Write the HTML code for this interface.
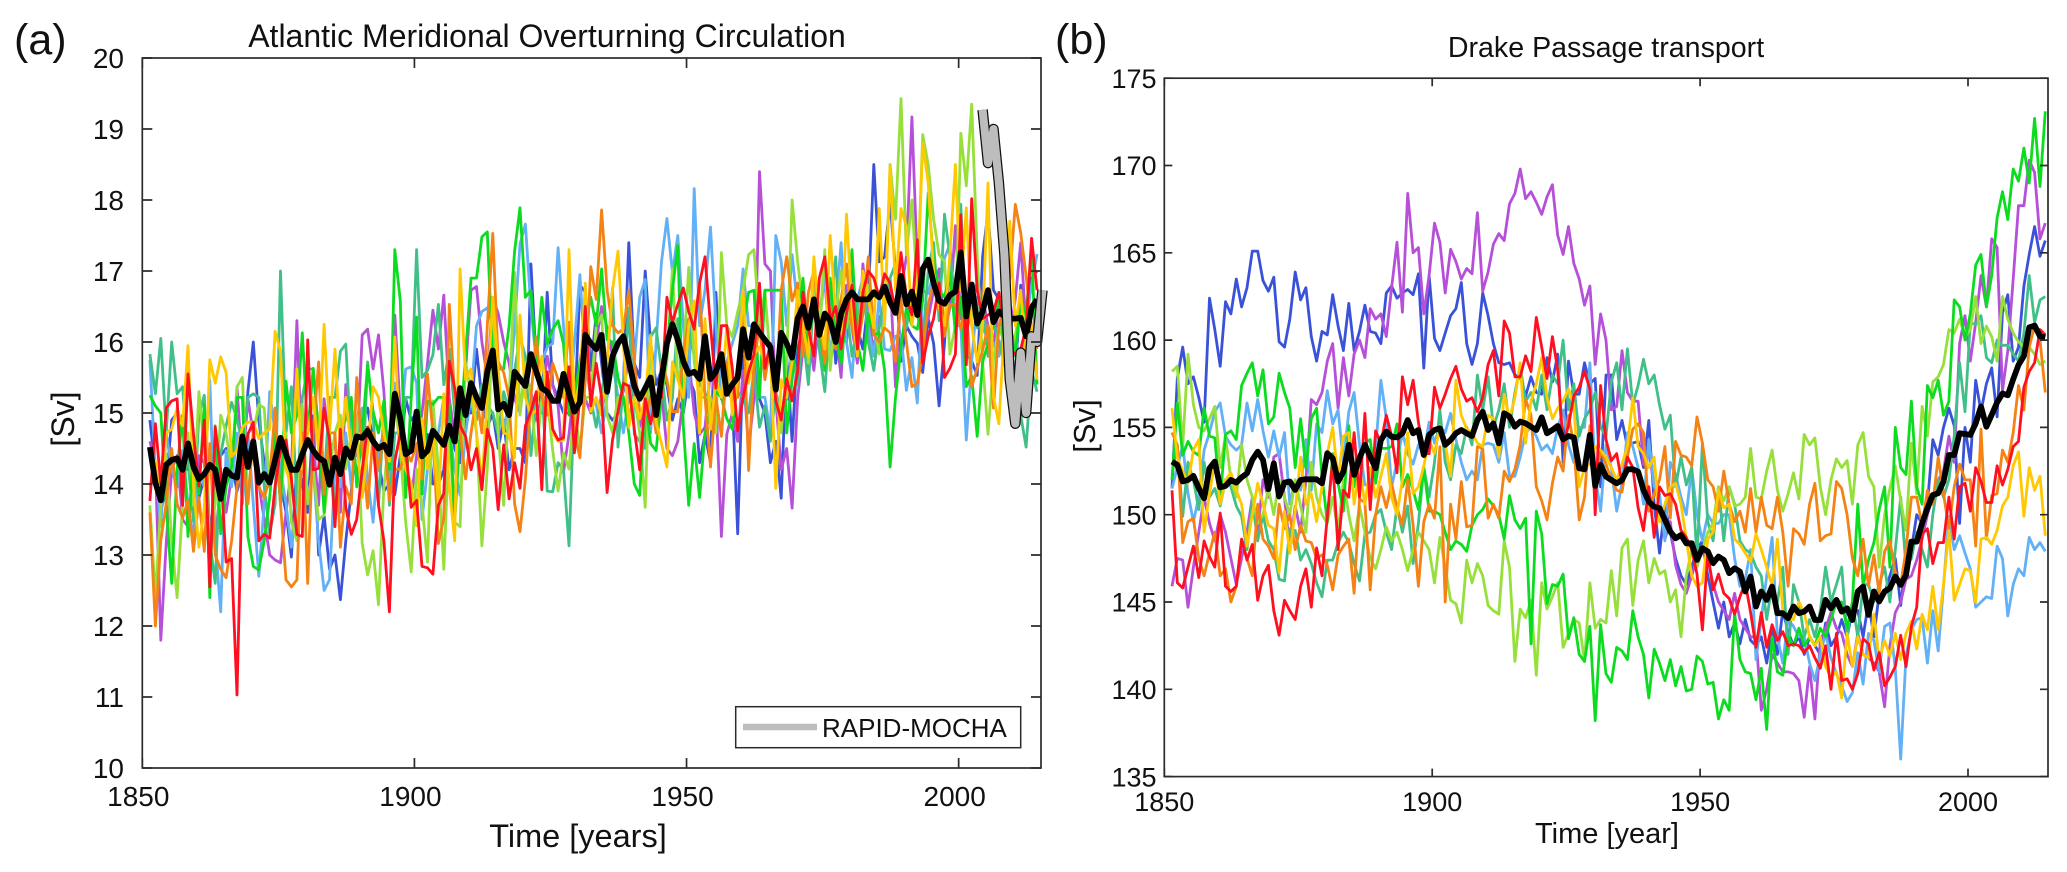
<!DOCTYPE html>
<html lang="en">
<head>
<meta charset="utf-8">
<title>AMOC and Drake Passage transport</title>
<style>
html,body{margin:0;padding:0;background:#fff;width:2067px;height:872px;overflow:hidden}
svg{display:block}
text{font-family:"Liberation Sans",Arial,sans-serif;fill:#111}
</style>
</head>
<body>
<svg id="figure" xmlns="http://www.w3.org/2000/svg" width="2067" height="872" viewBox="0 0 2067 872"></svg>
<script>
/* ---------- Panel (a) data: AMOC [Sv], annual values from 1851 ---------- */
const amocBlue=[14.9,14.2,13.6,14.0,14.9,15.0,14.9,14.2,14.7,13.8,14.1,13.2,14.0,14.4,14.5,14.3,13.9,14.2,15.3,16.0,14.9,14.3,14.0,14.5,14.0,13.6,12.97,14.3,14.0,13.6,14.96,13.0,13.56,12.8,13.0,12.37,13.2,13.9,14.7,14.9,15.07,14.6,14.3,13.9,14.0,13.85,14.4,15.2,14.9,15.0,14.2,14.7,14.0,
14.0,14.2,15.2,14.5,14.3,15.0,15.0,15.9,15.2,14.8,15.0,14.5,14.9,14.2,14.5,14.5,14.3,17.1,15.7,15.0,16.7,15.4,15.2,15.0,15.0,14.9,16.8,16.7,15.6,16.4,15.7,15.0,14.9,15.0,15.4,17.4,15.7,15.5,17.0,16.0,15.4,15.6,15.4,14.9,15.2,15.0,15.5,15.3,14.3,14.7,14.3,16.7,15.2,15.3,15.2,13.3,15.8,15.5,15.7,15.2,15.0,14.3,14.6,13.8,15.8,14.6,15.9,
16.2,15.6,17.0,16.1,15.8,16.8,15.7,16.3,16.0,17.1,16.2,15.9,16.6,18.5,
17.13,17.2,17.99,17.0,15.73,16.23,16.08,15.98,15.57,16.33,15.98,15.1,15.98,17.2,16.23,16.63,15.83,15.73,15.53,17.2,17.84,16.73,16.6,16.2,15.9,15.5,16.8,16.4,16.9,17.0];
const amocPurple=[14.6,14.3,11.8,13.16,14.2,14.4,13.5,13.4,13.3,14.4,14.3,13.4,13.2,14.0,13.6,14.1,15.37,14.2,15.2,14.7,14.0,13.5,13.0,12.93,12.89,13.6,14.2,16.3,14.2,15.0,14.6,13.7,15.2,14.5,14.6,13.6,15.4,15.0,14.4,16.1,16.18,15.62,16.1,15.3,14.0,16.38,15.0,14.3,13.8,14.4,15.0,15.7,16.45,
15.9,16.66,15.2,14.7,14.5,15.6,16.73,16.78,16.0,15.5,16.63,16.4,16.0,15.7,15.2,15.0,15.6,15.3,14.9,15.2,15.8,15.4,15.1,14.16,14.7,15.4,15.5,15.2,15.0,16.0,16.5,16.2,15.8,15.2,15.3,15.8,15.2,14.8,15.1,15.4,15.0,15.3,14.5,14.4,14.6,15.2,15.8,15.0,14.7,14.8,15.6,15.2,13.26,14.7,15.0,14.6,15.6,14.5,15.2,18.4,17.1,17.0,15.2,14.2,14.5,13.66,15.2,
15.9,16.1,15.6,16.4,16.9,15.8,16.2,15.5,16.8,16.2,15.7,17.1,16.3,15.9,
16.33,16.5,16.9,15.37,16.73,17.2,19.17,17.1,16.13,16.33,16.73,17.03,16.13,16.48,17.64,16.33,16.4,16.6,16.83,16.63,16.23,15.98,16.48,16.3,16.1,16.6,17.4,16.2,15.98,16.4];
const amocLightBlue=[15.75,14.21,13.4,14.72,14.21,13.96,14.47,13.72,13.2,14.21,13.96,15.47,13.2,12.2,14.47,13.96,14.72,13.72,14.72,13.72,12.7,13.72,15.3,14.72,14.21,13.72,13.11,13.72,14.47,13.81,14.21,13.2,12.5,12.65,14.21,13.96,14.72,13.96,14.72,15.07,14.07,13.46,14.47,14.72,13.96,15.42,14.72,15.62,15.65,15.42,13.5,14.21,14.72,
14.72,15.22,14.72,14.21,13.84,14.72,15.22,16.23,16.43,16.48,16.23,15.22,14.72,15.22,16.23,17.38,17.66,16.48,15.72,15.72,15.93,15.98,17.33,16.23,15.22,15.98,16.95,15.72,15.22,15.12,14.72,15.22,15.72,15.22,14.72,15.22,15.72,16.63,16.88,14.72,15.98,17.13,17.74,16.98,17.5,16.23,15.22,18.16,16.23,16.73,17.62,16.23,15.22,15.72,15.98,16.23,17.03,16.23,16.23,15.22,15.22,14.72,17.5,17.13,16.23,17.23,16.5,
16.3,15.7,16.9,16.2,17.0,15.8,16.4,17.4,16.0,15.5,16.6,16.9,16.2,15.8,
16.63,15.9,15.88,16.08,16.1,15.32,15.78,15.14,16.73,16.68,16.98,16.73,17.18,17.38,16.23,16.23,14.62,15.72,16.63,16.23,16.0,15.98,15.8,16.2,15.6,16.1,15.7,16.3,16.8,17.24];
const amocTeal=[15.83,15.27,16.05,14.72,16.0,15.27,15.37,14.32,13.47,14.97,15.25,13.2,12.6,14.42,14.82,15.15,14.92,14.57,15.22,15.27,15.22,13.96,13.3,13.72,17.0,14.72,15.37,13.7,15.22,15.62,15.62,14.72,14.02,15.22,15.22,15.87,15.97,14.47,14.21,13.96,15.72,14.97,13.7,15.02,13.7,14.72,14.72,15.22,15.22,17.3,15.5,15.6,15.82,
16.53,15.4,15.9,15.0,14.7,15.7,15.3,14.9,15.4,15.1,15.0,14.7,15.3,15.0,15.6,16.07,15.8,14.4,15.2,15.5,13.9,13.89,14.3,14.2,13.13,15.2,15.7,15.8,15.2,14.8,15.3,15.7,16.76,14.52,15.4,16.48,14.7,14.6,14.5,16.07,16.2,15.6,14.9,15.2,16.33,15.0,16.2,15.8,15.4,15.3,14.9,15.2,14.7,15.6,15.2,15.3,15.2,15.0,15.6,14.8,15.1,14.6,15.3,15.0,15.2,15.9,15.4,
16.1,15.4,16.7,15.9,15.3,16.4,17.2,15.7,16.5,15.8,16.2,16.9,16.0,15.6,
16.2,16.6,16.9,17.1,16.5,16.2,16.7,16.4,16.0,17.0,17.4,16.3,17.8,17.2,16.6,17.94,16.1,16.5,16.2,16.6,15.8,16.3,16.0,15.7,15.4,15.2,14.97,14.52,15.6,15.3];
const amocLime=[13.7,12.4,13.72,14.42,13.2,12.4,13.72,14.72,13.7,15.3,14.47,13.2,13.72,14.97,14.72,14.21,15.37,15.5,13.72,14.72,15.12,15.07,13.96,14.72,13.72,14.72,13.46,13.2,15.12,13.72,14.21,13.5,13.56,14.21,14.72,14.97,14.21,14.72,14.97,13.16,12.72,13.06,12.3,13.96,14.72,15.22,14.47,13.46,12.76,14.21,13.72,12.9,15.17,
14.21,12.8,14.72,13.46,13.4,15.72,15.22,14.72,13.13,14.21,16.43,14.72,13.7,15.22,16.98,14.97,15.72,15.22,14.4,15.22,15.22,14.47,13.9,14.44,14.21,15.12,14.47,15.22,15.22,16.23,16.38,14.97,14.72,15.22,15.22,14.97,15.22,14.72,13.67,16.1,14.72,15.22,15.72,17.03,15.47,15.72,17.05,15.72,15.22,15.22,15.22,14.72,17.26,16.23,16.07,16.43,16.73,17.23,17.3,16.23,16.73,15.72,15.22,14.72,15.72,18.0,17.13,
16.5,15.7,16.9,16.1,17.3,15.6,16.4,17.0,16.2,16.7,15.9,16.5,16.8,16.3,
15.83,16.33,18.5,17.73,19.43,17.23,18.0,16.73,18.92,18.5,17.73,17.23,17.13,15.83,16.23,18.94,18.2,19.35,17.23,15.73,14.7,15.73,16.2,16.0,15.8,16.1,16.5,16.3,15.7,16.0];
const amocGreen=[15.25,15.1,15.0,13.7,12.6,14.21,14.97,13.26,14.47,13.86,15.12,12.4,14.82,13.3,13.96,14.24,15.22,15.22,13.26,12.84,12.79,13.2,13.81,14.72,13.72,15.45,14.72,14.97,16.13,14.72,15.63,14.72,13.6,14.72,13.46,14.72,14.92,15.22,13.96,14.72,15.67,15.02,14.72,15.17,14.21,17.3,16.58,13.81,15.22,16.35,13.86,15.17,15.12,
15.22,15.22,15.12,13.46,14.72,15.83,16.9,16.9,17.48,17.55,15.72,15.62,15.62,16.23,17.28,17.89,16.63,16.73,15.72,16.63,15.97,16.18,16.3,15.97,14.97,15.22,15.72,16.23,16.63,16.23,17.03,16.03,16.0,15.5,15.22,14.72,14.0,13.84,15.22,14.57,14.47,15.22,15.9,16.73,17.36,14.82,13.7,14.57,13.81,14.72,15.02,15.3,15.22,14.92,14.77,15.47,16.23,16.7,16.73,15.22,16.73,16.73,16.73,16.73,14.72,15.47,16.23,
16.9,15.9,16.6,16.2,15.6,16.9,16.1,15.7,16.4,17.3,16.0,15.6,16.4,16.1,
16.13,15.6,14.24,15.22,15.93,16.48,16.23,16.18,16.58,18.1,17.13,16.73,16.63,16.98,16.13,16.63,15.37,15.52,14.67,15.72,15.98,16.23,16.6,15.9,16.3,15.8,16.6,16.4,17.3,15.4];
const amocOrange=[13.6,12.0,13.2,13.72,14.5,13.72,13.52,13.77,13.05,13.81,13.05,14.57,13.0,12.8,12.68,13.2,13.96,14.47,13.72,14.72,13.96,13.81,14.07,15.07,13.72,12.65,12.55,12.65,14.72,12.6,14.72,15.72,13.86,14.72,14.72,13.11,13.96,13.72,15.5,14.47,13.66,14.72,14.21,14.72,13.77,14.21,14.21,14.47,14.32,14.57,14.07,15.55,14.72,
13.16,13.52,16.53,15.22,14.72,14.07,14.72,15.22,14.72,16.23,17.53,15.72,15.57,15.22,13.72,13.33,14.07,15.22,16.07,15.22,14.97,15.7,15.47,15.22,16.28,14.72,14.37,15.47,17.06,16.6,17.86,16.73,16.23,16.13,16.18,16.73,15.72,15.02,14.97,15.22,14.72,15.72,15.47,15.02,15.02,15.83,16.33,16.23,16.83,15.22,14.24,15.22,14.67,15.72,15.22,15.22,16.58,14.19,15.72,16.23,15.47,15.97,15.22,16.73,17.2,16.58,16.83,
15.8,16.7,17.0,16.3,15.7,16.5,15.9,16.6,17.1,16.2,15.9,16.4,17.2,16.1,
16.0,16.2,16.13,15.73,16.6,16.0,15.37,15.42,15.83,16.53,16.83,16.83,16.08,16.53,16.53,16.18,16.48,15.37,15.63,15.88,16.23,15.07,16.23,16.5,16.9,17.94,17.54,16.93,16.2,15.9];
const amocYellow=[13.96,14.32,13.72,14.72,14.77,15.07,14.82,15.95,13.96,13.11,13.66,15.75,15.42,15.79,15.57,14.39,14.47,14.8,14.87,14.87,14.64,14.72,14.77,16.15,15.87,14.21,13.96,15.62,14.21,14.72,15.22,14.47,16.25,14.72,15.9,14.47,15.22,14.47,14.62,13.81,14.47,15.37,15.22,14.72,14.32,16.07,14.47,14.21,14.01,13.41,14.92,14.21,14.72,
13.72,15.27,13.96,13.2,17.03,15.47,15.62,14.72,14.01,15.22,16.63,15.62,14.72,14.69,14.37,16.38,15.22,14.97,15.04,15.8,15.22,14.72,14.6,14.62,17.3,15.07,15.47,16.83,15.02,15.22,14.97,15.72,16.73,17.28,15.98,14.8,15.22,14.92,15.22,16.07,14.87,14.57,14.24,15.72,15.47,15.22,16.23,16.58,14.72,16.33,14.77,15.47,15.22,16.23,14.97,15.47,16.73,15.42,15.83,15.93,15.72,15.83,13.94,15.47,15.22,15.72,16.73,
16.2,15.8,17.2,16.3,15.9,17.5,16.4,16.0,17.8,16.5,15.8,17.0,16.6,16.2,
17.88,16.23,18.47,16.73,17.88,17.63,16.23,16.73,18.8,18.24,16.98,16.48,16.23,17.23,18.5,16.73,17.89,16.23,15.72,16.23,18.24,15.22,14.85,16.2,17.7,16.23,16.73,15.72,16.23,15.47];
const amocRed=[13.76,14.85,14.0,15.07,15.17,15.2,13.7,15.55,14.7,13.97,14.9,12.55,14.8,14.2,12.9,12.95,11.03,14.2,14.7,14.87,13.2,13.29,13.24,13.97,14.47,14.62,14.07,13.29,13.26,16.03,14.2,14.22,15.07,14.62,13.4,14.77,13.67,13.29,13.5,14.2,14.8,14.57,13.7,13.2,12.2,14.32,14.72,14.52,13.67,13.77,12.84,12.82,12.73,
13.7,13.87,15.73,15.35,14.82,14.67,14.2,14.5,13.92,14.77,14.5,13.64,14.55,13.79,14.3,13.94,14.82,15.02,15.3,13.92,15.58,14.77,14.62,14.65,15.65,14.44,15.22,16.5,15.1,15.7,15.22,13.88,14.62,15.02,15.42,15.38,14.77,14.2,15.2,14.85,15.22,15.22,16.63,16.28,16.53,16.76,16.43,16.18,16.83,17.2,16.23,15.35,16.23,16.23,15.63,14.75,15.22,15.58,15.83,16.83,15.63,15.98,15.17,14.9,15.48,15.17,15.58,
16.7,16.2,15.8,16.9,17.2,16.3,16.5,15.9,16.4,16.8,15.9,16.7,17.0,16.9,
16.63,16.96,16.83,16.43,17.26,16.63,16.38,17.44,15.7,16.08,16.33,16.83,15.5,15.63,15.83,17.79,15.68,18.02,16.73,16.33,16.38,16.43,16.7,16.2,15.9,15.83,15.9,16.2,17.46,16.73];
const amocMean=[14.52,14.02,13.77,14.27,14.34,14.36,14.2,14.57,14.24,14.07,14.14,14.27,14.2,13.79,14.2,14.12,14.09,14.67,14.24,14.6,14.02,14.14,14.02,14.34,14.65,14.42,14.2,14.2,14.42,14.62,14.47,14.37,14.32,13.99,14.37,14.14,14.5,14.37,14.67,14.65,14.75,14.6,14.5,14.55,14.42,15.27,14.92,14.42,14.47,15.02,14.39,14.47,14.75,
14.65,14.55,14.82,14.6,15.35,14.97,15.42,15.22,15.07,15.58,15.88,15.05,15.13,14.97,15.58,15.48,15.38,15.83,15.58,15.35,15.3,15.17,15.17,15.55,15.27,15.02,15.15,16.1,15.98,15.9,16.1,15.3,15.8,15.98,16.08,15.73,15.38,15.2,15.35,15.5,14.97,15.48,15.98,16.25,16.03,15.73,15.55,15.58,15.48,16.08,15.48,15.58,15.83,15.27,15.4,15.5,16.18,15.78,16.25,16.13,16.03,15.93,15.33,16.13,15.98,15.78,16.33,
16.5,16.2,16.6,16.1,16.4,16.3,16.0,16.4,16.6,16.7,16.6,16.6,16.6,16.7,
16.63,16.78,16.56,16.41,16.93,16.53,16.71,16.38,17.03,17.16,16.83,16.58,16.54,16.66,16.71,17.26,16.36,16.81,16.26,16.43,16.73,16.28,16.43,16.36,16.33,16.33,16.34,16.08,16.48,16.6];
const rapidYears=[2004,2005,2006,2007,2008,2009,2010,2011,2012,2013,2014,2015];
const rapidValues=[19.27,18.52,19.0,18.24,17.23,15.47,14.85,15.85,15.0,16.08,16.0,16.73];
const amocYTicks=[10,11,12,13,14,15,16,17,18,19,20];
const sharedXTicks=[1850,1900,1950,2000];

/* ---------- Panel (b) data: Drake Passage transport [Sv], annual values from 1851 ---------- */
const drakeBlue=[151.5,157.8,159.6,157.5,157.9,156.7,155.3,162.4,160.6,158.5,
162.2,161.5,163.5,161.9,163,165.1,165.1,163.4,162.8,163.6,
159.9,159.6,161.2,163.9,162.3,163,160.2,158.8,160.5,160.3,
162.6,160.8,159.4,162.1,159.4,160.5,162,160.5,160.4,159.8,
162.7,163.1,162.4,162.7,162.9,162.6,163.8,158.4,163.7,160.1,
159.4,160.4,161.4,161.8,163.3,159.8,158.6,159.8,162.7,161.4,
159.8,158.7,158.6,158.7,158,157.9,156.8,157.9,157,156.9,
159,157.6,159.2,153,158.8,156.9,156.9,158.7,157.5,157.8,
151.6,158,158,154.3,155.4,153.9,154.1,154.2,152.7,155.4,
150.6,147.8,150.5,149,147.5,146.5,146,147,148,148.5,
146.5,145,143.5,145,143,143.8,142.6,144,142.8,142.5,
143,141.5,143.5,142,144.5,143.3,142.5,143,142,143,
142.5,142,143.8,142.5,143,144,143,144.5,144.5,143,
145,143,145.5,145.5,146.5,147.5,144.8,147.5,148,150,
149.5,150.6,154.3,153.4,155,156.1,155.1,149.5,155,153,
157.7,155.9,157.5,158.4,155.6,161.6,162.6,158.8,159.6,163.1,
164.9,166.5,164.8,165.7];
const drakePurple=[145.9,147.5,147.4,144.7,147,149,151,149.5,148.5,150,
149,147.5,146,147.5,149,151,149,152,151,153.3,
153.5,151,148,150.5,149,152,156.6,156.3,157,158.8,
159.8,156.1,159,156.8,159.2,160,159,161.8,161.2,161.5,
160.2,163,165.6,161.6,168.4,165,165.3,161.5,163.7,166.7,
165.6,162.7,165.2,164.5,163.5,164.1,163.8,167.3,162.8,163.9,
165.5,166.1,165.7,167.8,168.4,169.8,168.1,168.5,167.9,167.2,
168.2,168.9,166,164.9,166.5,164.4,163.5,162,163.1,158.6,
161.5,160,156,156.2,159.4,157,156.5,156.5,152.9,153.7,
151.6,150.6,148.6,149.6,147.1,146,145.5,146.5,147.5,148,
147.5,146,145,144.5,144,145.5,144,143.5,143,143,
138.8,140,142,141.5,141,141,140.9,140.5,138.4,141.3,
138.3,142.8,143.5,144.4,143.5,143.2,142,141.3,143.2,142,
141.8,141.5,141,139,142.5,144.4,145,146.3,146.5,147.4,
148.6,150,151,152,152.5,154.5,153,159.8,161.4,158.8,
161,163.7,161.9,165.8,165.3,157.1,159.4,163.5,167.7,167.7,
170.3,169.6,165.8,166.7];
const drakeLightBlue=[151.5,152.7,154,151.2,149.6,151,153.7,154.7,155.9,156.4,
154.5,154,153.7,154,156.4,154.8,156.6,154.8,153.3,154.8,
153.3,154.7,150.6,152,151.4,154.3,151.4,155.2,154.7,157.1,
155.2,156,153,155.9,157,154,151.7,151.7,153.7,157.7,
155.5,151.6,153,154.7,153.5,152.9,154,153.5,155.3,154.1,
155.1,154.7,155.8,154.3,153,152,152.5,152,154,154.1,
154,153,154.7,152.2,152.2,153.3,154.7,155,154.5,153.7,
154,153.5,155,156,154,153,155,155,158.7,152.2,
150.2,154,152.7,150.2,151.8,154.7,153.9,152.7,150.6,154.3,
151.6,151.2,148.5,153,152.3,151,150,152.7,150,148.5,
150,149.5,149.5,150,150,147.5,145.9,146.3,148,141.7,
144,146.5,148.7,143,141.5,144,143.6,143,143,141.5,
140.5,142,143.2,141.8,140.9,140.2,139.3,139.8,142.1,140.3,
143.2,142.8,141,143.6,143.8,141.2,136,141.9,143.4,144,
144.1,141.5,144.5,142.2,145.9,149.9,148,148.8,147.8,146.9,
144.7,145,145.3,145.2,148.2,147.5,144.2,146,146.9,146.5,
148.7,148,148.4,147.9];
const drakeTeal=[152.3,154,149.9,153,152,150.3,153,151,151.5,150.5,
152,151.6,150.5,149.9,148,150.8,148.5,150,148.5,148,
146.3,146.2,149.2,149.1,147.4,148,147.2,146.1,145.3,147.4,
147.4,148.4,149,148.4,147.2,146.2,148.9,149,150,150.3,
149,148,150.5,149,150.5,147.2,149.5,152.7,151,153,
156,153,152,154,153.5,155,154,158,156,157.9,
155,156,157.5,155,157,158.5,156.5,157,156,158,
156,158,157.5,160,156,157.5,154.5,155.5,156,157,
155,154.5,157.6,158.7,156,159.5,156.3,157.4,158.9,157.5,
158,156.3,154.9,155.7,151.6,153.3,151.7,152.7,147.5,154.1,
149.6,148.5,151.6,148.5,151.6,150.6,148.5,148,147.8,147,
146.5,144,146,145,147,142,146,145,143,144,
143,144.5,147,145,146,147,143,145,143,146,
146,145,146,147,145,148,151,147,147.5,149,
148,147,150,152,151,152,154.5,158.7,155.9,161,
160.9,161.4,159,158.7,160,159.7,159.7,159.2,158.8,160.4,
163.7,161,162.3,162.5];
const drakeLime=[158.2,158.5,153.9,159.2,156.3,155,154.8,155.5,156.2,152.7,
154.5,152,151,154,152,151,149.5,150,151.5,150,
152,151,150,152,150.5,149,153,151,150,149.5,
151,149,152,150,148.5,150.5,149,147.5,146.9,148,
149.3,148.5,149,148,146.8,148,149,148.5,148,146.1,
148.7,147,145.1,144.9,143.8,147.4,146.1,147.2,146.5,144.8,
144.5,144.3,148.5,147,141.6,144.6,144.1,145.1,140.8,146.1,
144.6,145.3,146.1,142.4,143.2,144,143.8,141.6,146.1,143.5,
144,143.8,146.8,144.2,148.1,148.6,144.8,147.4,148.5,146.1,
147.5,146.6,146.8,145,145.7,143,146.5,148,147,148,
149,149.5,151.6,150.8,151.6,150.5,150.6,151,153.8,151,
150.9,152.5,153.7,151.4,150.2,151.2,152.4,150.9,154.6,154,
154.4,151.6,150,152,153.2,152.7,153.1,150.6,154,154.7,
152.2,151.6,147,150,151.5,152.8,150.8,149.1,154.1,151.2,
156.2,154.5,157.6,157.9,158.6,160.6,160.4,161.2,160.2,160.6,
162.5,159.8,160.8,160.2,158.8,162.5,161.2,160.4,159.9,159.6,
159.6,159.2,158.6,158.8];
const drakeGreen=[152,156.4,153.4,154.2,153.6,153.4,156.1,154.5,154.4,150.8,
154.6,154.8,154.3,157.4,158.1,158.7,156.8,158.3,155.2,155.6,
158.1,157,156.1,152.7,155.5,152.7,155.5,156.1,152.2,149.6,
153.5,151.8,150.2,155.1,151.6,153,154.1,154.3,151.8,153.8,
153.8,153.9,155.2,151.6,152.3,151.4,150.3,152.7,150.2,150.2,
150,149,148,148.5,148.3,147.9,149.4,150,150.3,150.9,
150.5,150,148.6,151.1,149.7,149.2,149.8,142.6,150.2,148.9,
144.9,146,145.9,146.6,142.9,144.1,142,141.6,143.6,138.2,
143.7,140.9,140.4,142.4,142.2,141.7,144.5,143,142,139.5,
142.3,141.5,140.5,141.7,140.2,141.3,139.9,140,141.9,141.6,
140.3,140.4,138.3,139.4,138.8,144.4,141.7,141,140.9,139.4,
141.2,137.7,143,141,140.8,143,142.5,143.5,142.5,143,
142.5,143.5,143,144,145,145,143.5,145,150.6,145.9,
147.4,148.4,150.3,151.6,147,155,152.7,152.3,156.5,151.6,
150.6,157.4,156.7,157.7,155.7,156.5,162.3,161.9,160,161.5,
164.3,164.9,161.9,163.7,167,168.5,166.9,169.8,169.1,171,
169,172.7,168.8,173.1];
const drakeOrange=[154.7,154,148.4,149.6,149.8,147.5,146.5,147.8,149,146.5,
146.9,145,145.9,148.6,147.5,146.5,150.6,148.6,148.2,147.5,
150.6,149.2,150,148,149.4,148.5,148.4,147.5,147.7,147.1,
145.7,147.7,148.2,148.6,145.5,150.9,150.7,145.7,150,151.6,
150.4,151.8,150.4,149.4,152,149.4,145.9,149.6,150.6,149.8,
153.9,145,150.6,148.6,151.9,149.3,149.4,153.9,153.8,149.8,
150.6,149.8,152.5,151.9,152.6,154,156.6,155.7,151.6,150.8,
149.7,151.8,153.3,152.5,155.7,154,149.7,151,155.1,151.8,
153.7,152.9,152,151.4,151.3,153.3,154.9,155.2,154.7,150.2,
151.2,152,153.9,149.8,154.2,153.4,153.3,152.8,155.6,154.1,
152,151.6,150.2,152.5,150.6,149.6,150.2,149,151.5,149,
151,149.4,149.2,151,149,145.9,149.2,148.9,148.3,150.6,
151.8,148.5,148.8,148.9,151.9,151.5,150,147.5,146.5,148.6,
145.9,147.7,145.5,147.9,148.5,146.7,146,148,151,151,
149.4,151.4,150.6,153.3,151.2,149.2,151.6,152.9,152,152,
148.2,154.9,148.6,151.1,151.2,153.7,153,154.7,157.4,156,
159.6,160.8,160,157];
const drakeYellow=[156.1,153.3,152.5,151.8,153.7,154.3,149,151.2,153,150.6,
152,152.4,151.4,150.6,148.2,150,151.8,150.6,149.4,149.2,
146.7,150.2,147.8,150.2,153.3,150.6,151.2,149.6,151.6,153.5,
155,152,154.5,154.7,150.6,152.7,150.6,152.7,151,152.2,
153.5,151,150,152,154.7,151.2,151.6,152.8,154.3,153.5,
155.1,154.1,152.2,157.7,155.7,154.9,154.7,154.1,153.9,155.7,
155.5,153.3,156.9,155.5,156.7,158.7,154.1,156.5,157.5,159,
156.7,155.5,156.1,156.5,157.2,156.3,151.6,152.7,152.9,153.9,
153.7,153.3,152.7,152,152.9,153.9,156.7,153.9,153.5,152.7,
153.3,149.6,150.6,151.6,151.8,150.6,148.6,146.5,145.9,146.1,
148.6,149,151.4,150.4,150.6,148.6,148.3,147.8,147.3,148.9,
148,147,145.9,148.6,144.5,144,144,145,144.4,143,
142.5,143,141.3,140.7,141,139.5,143.2,141.3,143,142,
141.8,144.3,141.7,142.8,141.9,143.2,141.7,143.2,143.9,142.3,
144.3,143.4,145.9,143.4,146,149.1,145.1,146,146.9,146.8,
145,148.6,148.7,148.3,149.1,150.5,151,152.8,153.6,149.9,
152.7,151.4,152.2,148.8];
const drakeRed=[151.4,146.1,145.8,147,148.2,146.4,148.5,147.6,147,150.1,
145.9,145.6,145.9,148.6,147.4,148.3,145.1,146.5,147.1,144.5,
143.1,145.1,144.5,144,145.9,146.9,144.7,148.1,146.5,149.9,
153.1,148,151.4,151,154.7,151,155.8,150.3,154.8,154.1,
155.7,154.5,152.4,157.9,156.3,157.7,155.3,153.5,153.5,157.3,
156.1,156.9,157.8,158.5,157.2,156.5,156.7,155.9,156.7,158.6,
159.4,156.8,161.1,160.4,157.9,157.9,159.1,158.2,161.3,159.6,
157.8,160.2,158.3,154.1,155.1,156.8,157.3,158.2,157.2,150,
157.4,154.3,153.1,153.5,151.8,153.3,152.7,150.4,149.1,151.6,
148.7,151.6,151.1,151.2,150.6,149.1,148.7,148,146.6,143.4,
147.8,145.7,146.6,145.5,145.2,144.3,145.3,146.1,144.4,142.4,
144.4,142.4,143.7,142.8,143.3,142.5,142.6,142.5,142.1,142.5,
141.8,141.2,142.5,140,143.2,140.5,140.6,140,140.9,142.9,
142.6,141.1,142.1,140.2,140.7,141.3,143.1,141.3,143.6,144.7,
148.9,149.2,147.2,148.4,148.4,151,148.6,151.6,151.8,150.2,
152.7,151.9,150.7,150.7,152.8,151.7,152.6,153.9,154.2,157.3,
158.2,158.7,160.6,160.3];
const drakeMean=[153.04,152.85,151.9,151.99,152.22,151.51,150.94,152.66,153.04,151.57,
151.65,151.99,151.84,152.14,152.37,153.14,153.61,153.14,151.46,152.94,
151.04,151.84,151.9,151.42,151.99,152.03,152.03,152.03,151.8,153.52,
153.23,151.9,152.47,154.0,152.28,153.23,154.0,153.33,152.66,154.28,
154.76,154.47,154.43,154.66,155.42,154.66,154.85,153.42,154.57,154.85,
154.95,154.0,154.28,154.66,154.85,154.66,154.51,155.42,155.9,154.85,
155.23,154.09,155.81,155.62,155.04,155.33,155.23,155.04,154.85,155.58,
154.66,154.85,155.08,154.32,154.51,154.43,152.66,152.6,154.57,151.65,
152.85,152.18,151.99,
151.8,151.99,152.6,152.6,152.47,151.42,150.75,150.46,150.37,149.7,149.03,148.65,148.84,148.36,148.36,147.41,148.08,147.89,147.22,147.6,147.41,146.65,146.93,146.74,145.6,146.46,144.74,145.6,145.12,145.88,144.36,144.36,144.07,144.74,144.36,144.45,144.74,143.97,143.97,145.12,144.64,145.12,144.45,144.64,143.97,145.6,145.88,144.26,145.6,145.03,145.6,145.79,146.46,145.98,146.55,148.46,148.46,149.51,150.37,151.13,151.23,151.9,153.42,153.42,154.66,154.62,154.57,155.23,156.19,155.04,
155.72,156.43,156.94,156.84,157.76,158.58,159.09,160.73,160.83,160.22,160.16];
const drakeYTicks=[135,140,145,150,155,160,165,170,175];

const firstYear=1851;

/* ---------- Styling and helpers ---------- */
const NS='http://www.w3.org/2000/svg';
const svg=document.getElementById('figure');
const C={blue:'#3a52d8',purple:'#b650d8',lightblue:'#62b0f6',teal:'#40c088',lime:'#97e03c',green:'#0cdc20',orange:'#f58214',yellow:'#ffc800',red:'#ff0f20'};

function node(tag,attrs,parent){
  const e=document.createElementNS(NS,tag);
  for(const k in attrs){e.setAttribute(k,attrs[k]);}
  (parent||svg).appendChild(e);
  return e;
}
function label(txt,x,y,size,anchor,parent,rot){
  const e=node('text',{x:x,y:y,'font-size':size,'text-anchor':anchor||'middle'},parent);
  if(rot){e.setAttribute('transform','rotate(-90 '+x+' '+y+')');}
  e.textContent=txt;
  return e;
}
function drawPanel(p){
  const g=node('g',{});
  
  
  const xScale=function(y){return p.left+(y-p.xMin)*(p.right-p.left)/(p.xMax-p.xMin);};
  const yScale=function(v){return p.bottom-(v-p.yMin)*(p.bottom-p.top)/(p.yMax-p.yMin);};
  const lineG=node('g',{fill:'none','stroke-linejoin':'round'},g);
  
  
  p.series.forEach(function(s){
    const pts=s.values.map(function(v,i){return xScale(firstYear+p.offset+i).toFixed(1)+','+yScale(v).toFixed(1);}).join(' ');
    const l=node('polyline',{points:pts,stroke:s.color,'stroke-width':s.width||2.8},lineG);
    
    
  });
  if(p.after){p.after(g,xScale,yScale);}
  const axisG=node('g',{stroke:'#2b2b2b','stroke-width':1.7,fill:'none'},g);
  
  
  const frame=node('rect',{x:p.left,y:p.top,width:p.right-p.left,height:p.bottom-p.top},axisG);
  
  
  p.yTicks.forEach(function(v){
    const y=yScale(v);
    const t=node('path',{d:'M'+p.left+' '+y+'h'+p.tick+'M'+p.right+' '+y+'h-'+p.tick},axisG);
    
    
    const lb=label(String(v),p.yLabelX,y+p.font*0.36,p.font,'end',g);
    
    
  });
  sharedXTicks.forEach(function(v){
    const x=xScale(v);
    const t=node('path',{d:'M'+x+' '+p.bottom+'v-'+p.tick+'M'+x+' '+p.top+'v'+p.tick},axisG);
    
    
    const lb=label(String(v),x-p.xLabelShift,p.xLabelY,p.font,'middle',g);
    
    
  });
  const tt=label(p.title,p.titleX,p.titleY,p.titleSize,'middle',g);
  
  
  const xt=label(p.xTitle,p.xTitleX,p.xTitleY,p.xTitleSize,'middle',g);
  
  
  const yt=label('[Sv]',p.yTitleX,p.yTitleY,p.yTitleSize,'middle',g,true);
  
  
  const pl=label(p.letter,p.letterX,p.letterY,43,'start',g);
  
  
}

drawPanel({
  id:'amoc',left:142.3,right:1041,top:58,bottom:768,xMin:1850,xMax:2015.13,yMin:10,yMax:20,offset:0.4,
  tick:10,font:28,yLabelX:124,xLabelY:806,xLabelShift:4,yTicks:amocYTicks,
  title:'Atlantic Meridional Overturning Circulation',titleX:547,titleY:47,titleSize:32,
  xTitle:'Time [years]',xTitleX:578,xTitleY:847,xTitleSize:32.5,
  yTitleX:74,yTitleY:419,yTitleSize:32,letter:'(a)',letterX:14,letterY:54,
  series:[
    {name:'amoc-member-blue',values:amocBlue,color:C.blue},
    {name:'amoc-member-purple',values:amocPurple,color:C.purple},
    {name:'amoc-member-light-blue',values:amocLightBlue,color:C.lightblue},
    {name:'amoc-member-teal',values:amocTeal,color:C.teal},
    {name:'amoc-member-lime',values:amocLime,color:C.lime},
    {name:'amoc-member-green',values:amocGreen,color:C.green},
    {name:'amoc-member-orange',values:amocOrange,color:C.orange},
    {name:'amoc-member-yellow',values:amocYellow,color:C.yellow},
    {name:'amoc-member-red',values:amocRed,color:C.red},
    {name:'amoc-ensemble-mean',values:amocMean,color:'#000',width:5.8}
  ],
  after:function(g,xScale,yScale){
    const pts=rapidYears.map(function(y,i){return xScale(y+0.4).toFixed(1)+','+yScale(rapidValues[i]).toFixed(1);}).join(' ');
    const edge=node('polyline',{points:pts,fill:'none',stroke:'#111','stroke-width':10.5,'stroke-linejoin':'round'},g);
    
    
    const core=node('polyline',{points:pts,fill:'none',stroke:'#bdbdbd','stroke-width':8,'stroke-linejoin':'round'},g);
    
    
  }
});

drawPanel({
  id:'drake',left:1164.3,right:2048,top:78.2,bottom:776.6,xMin:1850,xMax:2014.93,yMin:135,yMax:175,offset:0.43,
  tick:8,font:27,yLabelX:1156.5,xLabelY:811,xLabelShift:0,yTicks:drakeYTicks,
  title:'Drake Passage transport',titleX:1606,titleY:57,titleSize:28.6,
  xTitle:'Time [year]',xTitleX:1607,xTitleY:843,xTitleSize:29,
  yTitleX:1095,yTitleY:426,yTitleSize:31,letter:'(b)',letterX:1055,letterY:54,
  series:[
    {name:'drake-member-blue',values:drakeBlue,color:C.blue},
    {name:'drake-member-purple',values:drakePurple,color:C.purple},
    {name:'drake-member-light-blue',values:drakeLightBlue,color:C.lightblue},
    {name:'drake-member-teal',values:drakeTeal,color:C.teal},
    {name:'drake-member-lime',values:drakeLime,color:C.lime},
    {name:'drake-member-green',values:drakeGreen,color:C.green},
    {name:'drake-member-orange',values:drakeOrange,color:C.orange},
    {name:'drake-member-yellow',values:drakeYellow,color:C.yellow},
    {name:'drake-member-red',values:drakeRed,color:C.red},
    {name:'drake-ensemble-mean',values:drakeMean,color:'#000',width:5.8}
  ]
});

/* ---------- Legend ---------- */
const legend=node('g',{});


const legendBox=node('rect',{x:735.7,y:706.7,width:285,height:41,fill:'#fff',stroke:'#2b2b2b','stroke-width':1.5},legend);


const legendLine=node('line',{x1:743,x2:817,y1:727,y2:727,stroke:'#bdbdbd','stroke-width':6.5},legend);


const legendText=label('RAPID-MOCHA',822,737,26,'start',legend);


</script>
</body>
</html>
